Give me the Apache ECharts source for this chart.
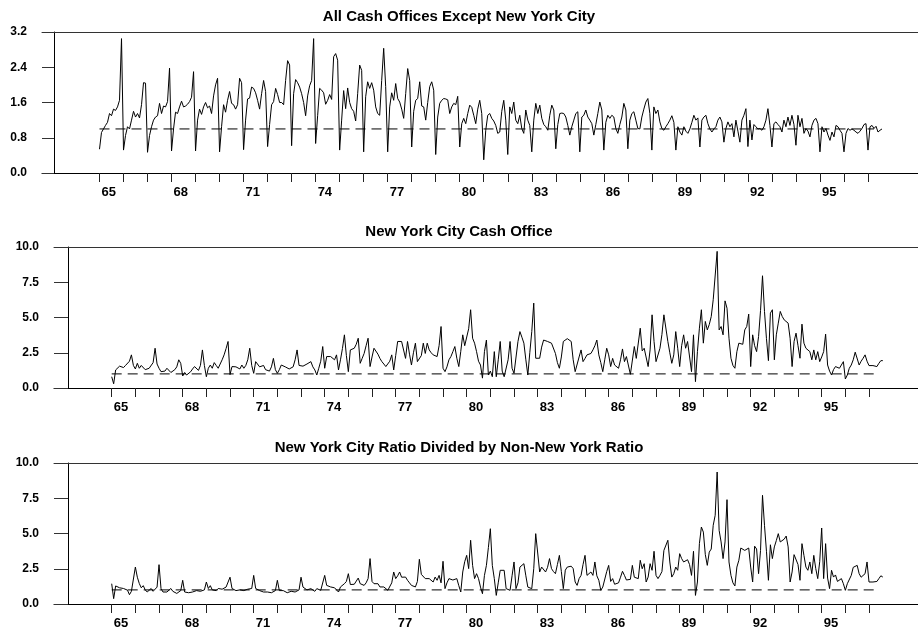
<!DOCTYPE html>
<html>
<head>
<meta charset="utf-8">
<script src="https://cdn.jsdelivr.net/npm/echarts@6/dist/echarts.min.js"></script>
<style>
  html, body { margin: 0; padding: 0; background: #fff; }
  #chart { width: 918px; height: 631px; }
</style>
</head>
<body>
<div id="chart"></div>
<script>
// monthly values, Jan 1965 .. Aug 1997
const startYear = 1965
const tickYears = [1965, 1966, 1967, 1968, 1969, 1970, 1971, 1972, 1973, 1974, 1975, 1976, 1977, 1978, 1979, 1980,
  1981, 1982, 1983, 1984, 1985, 1986, 1987, 1988, 1989, 1990, 1991, 1992, 1993, 1994, 1995, 1996, 1997]
const labelYears = [1965, 1968, 1971, 1974, 1977, 1980, 1983, 1986, 1989, 1992, 1995]
const refLevel = 1.0
const refSpan = [1965, 1997.25]

const nonNY = [
  0.54, 0.92, 1.0, 1.08, 1.15, 1.35, 1.3, 1.45, 1.42, 1.5, 1.65, 3.05,
  0.52, 0.85, 1.05, 1.0, 1.2, 1.4, 1.27, 1.35, 1.25, 1.55, 2.05, 2.04,
  0.47, 0.85, 1.05, 1.2, 1.27, 1.3, 1.58, 1.35, 1.52, 1.5, 1.62, 2.38,
  0.5, 1.0, 1.38, 1.35, 1.5, 1.63, 1.5, 1.52, 1.56, 1.62, 1.72, 2.3,
  0.5, 1.2, 1.45, 1.33, 1.5, 1.6, 1.48, 1.52, 1.35, 1.75, 2.0, 2.15,
  0.48, 1.05, 1.55, 1.38, 1.65, 1.85, 1.58, 1.55, 1.45, 1.55, 2.15, 2.05,
  0.53, 1.2, 1.68, 1.7, 1.95, 1.92, 1.82, 1.65, 1.45, 1.8, 2.1, 1.85,
  0.6, 1.1, 1.55, 1.62, 1.92, 1.78, 1.6, 1.6, 1.55, 2.1, 2.55, 2.45,
  0.62, 1.8, 2.12, 2.05, 1.95, 1.8, 1.6, 1.3, 1.75, 1.98, 2.1, 3.05,
  0.67, 1.3, 1.92, 1.88, 1.82, 1.56, 1.65, 1.78, 1.67, 2.64, 2.71, 2.56,
  0.52, 1.2, 1.87, 1.46, 1.93, 1.6, 1.46, 1.4, 1.18, 1.8, 2.45, 2.33,
  0.48, 1.73, 2.07, 1.92, 2.05, 1.88, 1.5, 1.35, 1.31, 2.1, 2.83, 1.96,
  0.48, 1.5, 1.82, 1.65, 2.03, 1.69, 1.61, 1.45, 1.24, 1.8, 2.37, 2.1,
  0.59, 1.4, 1.65, 1.69, 2.07, 1.52, 1.5, 1.2, 1.6, 1.96, 2.07, 1.88,
  0.42, 1.27, 1.58, 1.65, 1.69, 1.68, 1.66, 1.35, 1.5, 1.58, 1.55, 1.74,
  0.59, 1.12, 1.24, 1.12, 1.35, 1.54, 1.49, 1.31, 1.12, 1.45, 1.65, 1.35,
  0.3, 0.97, 1.31, 1.35, 1.24, 1.18, 1.08, 0.9, 0.93, 1.4, 1.65, 1.2,
  0.42, 1.5, 1.35, 1.61, 1.2, 1.12, 1.31, 1.01, 0.9, 1.43, 1.2, 1.08,
  0.48, 1.2, 1.58, 1.35, 1.54, 1.24, 1.1, 1.05, 0.97, 1.31, 1.54, 1.43,
  0.55, 1.1, 1.35, 1.36, 1.35, 1.27, 1.08, 0.86, 1.05, 1.2, 1.35, 1.39,
  0.48, 1.27, 1.31, 1.43, 1.27, 1.2, 1.12, 0.86, 1.1, 1.35, 1.61, 1.43,
  0.52, 1.15, 1.31, 1.24, 1.31, 1.27, 1.01, 0.9, 1.1, 1.27, 1.58, 1.43,
  0.55, 1.2, 1.35, 1.39, 1.2, 1.01, 1.0, 1.27, 1.45, 1.61, 1.69, 1.35,
  0.52, 1.5, 1.35, 1.43, 1.16, 1.01, 0.97, 1.05, 1.12, 1.2, 1.3, 1.15,
  0.52, 1.05, 0.93, 0.86, 1.05, 0.95, 0.9, 1.0, 1.15, 1.31, 1.2, 1.25,
  0.59, 1.2, 1.27, 1.31, 1.12, 1.0, 0.93, 1.0, 1.05, 1.2, 1.27, 1.16,
  0.7, 1.01, 1.16, 1.05, 1.12, 0.82, 1.2, 0.95, 0.7, 1.2, 1.31, 1.46,
  0.6, 1.2, 0.75, 1.1, 1.05, 1.0, 1.01, 0.97, 1.05, 1.2, 1.46, 1.08,
  0.59, 1.12, 1.16, 1.1, 1.05, 0.93, 1.2, 1.05, 1.27, 1.08, 1.31, 1.1,
  0.63, 1.31, 1.05, 1.24, 0.9, 1.01, 0.95, 0.82, 1.08, 1.2, 1.24, 1.12,
  0.48, 1.05, 0.93, 1.01, 0.86, 0.74, 0.93, 0.82, 1.08, 1.05, 0.97, 0.9,
  0.48, 0.9, 1.01, 0.97, 1.0, 0.97, 0.93, 0.9, 0.95, 1.01, 1.1, 1.12,
  0.52, 1.05, 1.08, 1.01, 1.06, 0.93, 0.97, 1.0
]

const nyc = [
  0.8, 0.3, 1.28, 1.4, 1.55, 1.5, 1.45, 1.6, 1.7, 1.9, 2.35, 1.6,
  1.35, 1.75, 1.4, 1.6, 1.5, 1.3, 1.28, 1.4, 1.35, 1.8, 2.82, 1.7,
  1.4, 1.16, 1.04, 1.2, 1.4, 1.28, 1.1, 1.2, 1.3, 1.5, 2.0, 1.75,
  0.85, 1.1, 0.92, 1.0, 1.15, 1.35, 1.52, 1.4, 1.25, 1.6, 2.7, 1.6,
  0.8, 1.4, 1.63, 1.4, 1.8, 1.6, 1.4, 1.7, 2.0, 2.35, 2.8, 3.3,
  0.95, 1.52, 1.4, 1.5, 1.45, 1.35, 1.63, 1.4, 1.6, 2.0, 2.82, 1.6,
  1.04, 1.87, 1.75, 1.5, 1.4, 1.6, 1.3, 1.16, 1.2, 1.5, 2.1, 1.3,
  1.04, 1.3, 1.63, 1.55, 1.5, 1.4, 1.35, 1.28, 1.5, 2.0, 2.7, 1.6,
  1.5, 1.55, 1.63, 1.7, 1.8, 1.87, 1.5, 1.28, 0.92, 1.4, 1.9, 2.94,
  1.4, 2.23, 2.1, 2.23, 2.15, 2.0, 2.35, 1.28, 2.0, 2.8, 3.77, 2.3,
  1.16, 2.7, 2.6, 2.82, 3.1, 3.53, 1.75, 2.1, 2.45, 3.0, 3.53, 1.52,
  2.2, 2.82, 2.7, 2.4, 2.1, 1.87, 1.7, 1.52, 1.4, 1.9, 2.35, 1.28,
  2.3, 3.3, 3.4, 3.3, 3.3, 2.1, 3.3, 2.4, 1.63, 2.5, 3.18, 1.87,
  2.0, 2.3, 3.18, 2.45, 3.18, 2.7, 2.5, 2.35, 2.3, 2.23, 3.0, 4.36,
  1.4, 1.16, 1.5, 2.0, 2.23, 2.58, 2.94, 2.11, 1.52, 2.6, 3.77, 3.0,
  2.94, 4.2, 5.55, 3.53, 3.18, 2.58, 1.9, 1.63, 0.7, 2.58, 3.4, 0.92,
  1.2, 0.8, 2.58, 0.8, 2.0, 3.3, 1.2, 0.8, 0.8, 2.0, 3.3, 1.4,
  1.04, 1.1, 3.3, 4.0, 3.6, 3.18, 2.0, 0.92, 2.5, 4.0, 6.02, 2.11,
  2.2, 2.11, 2.9, 3.4, 3.35, 3.3, 3.25, 3.18, 3.3, 2.45, 1.8, 1.4,
  2.2, 3.3, 3.4, 3.5, 3.53, 3.3, 2.0, 1.16, 1.04, 2.2, 2.7, 1.87,
  2.1, 2.35, 2.4, 2.45, 2.7, 3.0, 3.4, 2.35, 1.8, 1.16, 2.0, 2.82,
  2.35, 1.52, 2.1, 1.63, 1.5, 1.4, 2.0, 2.77, 1.87, 2.23, 2.35, 0.97,
  0.97, 2.94, 2.1, 2.2, 4.24, 2.63, 2.82, 2.94, 1.52, 2.7, 5.19, 3.3,
  1.87, 2.0, 2.82, 3.8, 5.19, 5.07, 3.3, 2.5, 1.75, 2.35, 4.0, 2.82,
  1.52, 3.0, 3.77, 2.82, 3.3, 3.4, 1.16, 3.77, 0.45, 2.58, 4.24, 5.55,
  3.18, 4.72, 4.12, 4.5, 5.07, 6.26, 6.26, 9.69, 4.12, 4.36, 3.77, 6.18,
  5.66, 3.53, 2.11, 1.6, 1.4, 2.58, 3.18, 3.06, 3.1, 4.12, 4.36, 5.24,
  1.52, 3.77, 3.0, 2.58, 3.65, 5.5, 7.96, 5.43, 3.5, 1.94, 5.31, 5.55,
  2.0, 3.77, 4.6, 5.43, 5.07, 4.83, 4.7, 4.6, 3.53, 1.52, 3.3, 3.89,
  3.0, 2.11, 4.53, 3.18, 2.82, 2.7, 2.58, 2.0, 2.7, 2.0, 2.58, 1.87,
  2.2, 2.58, 3.82, 1.63, 1.2, 0.92, 1.3, 1.52, 1.4, 1.4, 1.45, 1.87,
  0.64, 0.92, 1.4, 1.63, 2.0, 2.54, 2.46, 1.63, 1.9, 2.11, 2.35, 1.9,
  1.59, 1.59, 1.59, 1.52, 1.52, 1.75, 1.94, 1.94
]

const ratio = [
  1.44, 0.38, 1.28, 1.2, 1.15, 1.13, 1.1, 1.05, 0.98, 0.66, 0.9, 1.0,
  2.62, 1.9, 1.45, 1.15, 1.3, 1.0, 0.85, 0.95, 1.1, 0.9, 1.0, 1.2,
  2.79, 1.1, 0.85, 0.75, 0.85, 0.95, 1.1, 0.9, 0.8, 0.75, 0.85, 0.95,
  1.68, 0.85, 0.75, 0.8, 0.9, 0.85, 0.9, 0.95, 1.0, 0.9, 0.95, 1.0,
  1.56, 1.1, 1.3, 1.0, 1.05, 0.95, 1.1, 1.0, 1.05, 1.1, 1.2, 1.3,
  1.9, 1.1, 1.0, 0.95, 1.05, 1.0, 1.1, 0.95, 1.0, 1.05, 1.0, 1.1,
  2.03, 1.1, 1.0, 0.95, 1.0, 0.85, 0.8, 0.85, 0.75, 0.8, 0.85, 0.95,
  1.68, 0.95, 0.9, 0.95, 0.85, 0.8, 0.8, 0.9, 0.95, 0.85, 0.9, 1.0,
  1.9, 1.2, 1.09, 1.0, 0.97, 1.09, 1.0, 0.9, 1.09, 1.0, 0.97, 0.97,
  2.03, 1.32, 1.25, 1.21, 1.09, 1.15, 1.21, 0.85, 1.21, 1.3, 1.44, 1.6,
  2.15, 1.38, 1.32, 1.4, 1.44, 1.84, 1.44, 1.4, 1.32, 1.5, 1.8, 3.22,
  1.6, 1.44, 1.32, 1.44, 1.21, 1.2, 1.21, 1.1, 0.97, 0.97, 1.5, 2.27,
  1.8, 2.0, 2.27, 1.9, 1.8, 1.91, 1.68, 1.5, 1.32, 1.25, 1.21, 1.6,
  3.17, 2.1, 2.03, 1.8, 1.68, 1.8, 1.7, 1.56, 1.91, 1.68, 2.03, 1.5,
  3.03, 1.09, 1.5, 1.8, 1.8, 1.7, 1.56, 1.8, 1.3, 0.85, 2.27, 3.0,
  3.45, 2.51, 4.52, 2.74, 1.8, 2.15, 1.8, 1.2, 0.73, 2.03, 2.74, 4.0,
  5.34, 2.74, 1.8, 0.61, 1.5, 2.39, 2.39, 2.39, 1.09, 1.0, 0.97, 2.0,
  2.98, 1.09, 1.5, 2.62, 2.6, 2.86, 2.0, 1.2, 1.09, 1.09, 2.5, 4.99,
  4.87, 2.27, 2.62, 2.5, 2.27, 2.6, 3.22, 2.51, 2.3, 2.15, 2.8, 3.45,
  2.3, 1.09, 2.4, 2.62, 2.74, 2.68, 2.51, 1.56, 1.32, 1.8, 2.03, 2.8,
  3.45, 2.03, 2.06, 2.27, 2.03, 2.98, 2.0, 1.68, 0.97, 1.2, 1.32, 2.3,
  2.74, 1.6, 1.8, 1.4, 1.3, 1.5, 1.9, 2.32, 2.03, 1.7, 1.56, 1.75,
  2.74, 1.9, 1.8, 1.8, 3.1, 2.5, 2.86, 1.56, 1.91, 2.86, 2.39, 3.74,
  2.03, 1.8, 2.03, 2.3, 3.8, 3.68, 4.52, 2.98, 1.91, 2.15, 2.62, 2.39,
  3.57, 3.22, 2.98, 2.86, 3.14, 2.8, 2.03, 3.74, 0.61, 1.56, 4.28, 5.46,
  5.1, 3.5, 2.74, 3.68, 3.9, 5.58, 6.29, 9.36, 5.22, 4.4, 3.22, 4.4,
  7.4, 2.98, 2.03, 1.5, 1.28, 2.62, 3.1, 3.97, 3.85, 3.8, 3.92, 3.97,
  2.62, 1.56, 4.1, 3.9, 2.15, 3.8, 7.71, 5.58, 3.74, 1.68, 4.2, 3.22,
  4.05, 4.5, 4.99, 4.4, 4.35, 4.6, 4.82, 4.05, 1.56, 2.27, 3.5, 3.45,
  2.8, 1.68, 4.28, 3.45, 2.62, 2.39, 2.98, 2.15, 3.45, 2.51, 1.8, 3.0,
  5.39, 1.8, 4.28, 1.84, 1.09, 2.39, 1.91, 2.06, 1.6, 1.7, 1.8, 1.44,
  0.97, 1.44, 1.44, 2.03, 2.6, 2.74, 2.74, 2.15, 1.9, 1.91, 2.15, 2.98,
  1.56, 1.56, 1.56, 1.44, 1.6, 1.8, 2.0, 1.91
]

const titles = [
  'All Cash Offices Except New York City',
  'New York City Cash Office',
  'New York City Ratio Divided by Non-New York Ratio'
]

// layout of the three panels (pixels)
const panels = [
  {titleTop: 8, left: 42, top: 32, height: 141, yOff: 12, labelMargin: 27, xMin: 1962.606, xMax: 1999.082, yMax: 3.2, yStep: 0.8},
  {titleTop: 223, left: 54, top: 247, height: 141, yOff: 14, labelMargin: 29, xMin: 1962.562, xMax: 1999.07, yMax: 10, yStep: 2.5},
  {titleTop: 439, left: 54, top: 463, height: 141, yOff: 14, labelMargin: 29, xMin: 1962.562, xMax: 1999.07, yMax: 10, yStep: 2.5}
]
const seriesData = [nonNY, nyc, ratio]

const font = 'Liberation Sans, Arial, Helvetica, sans-serif'
const toPoints = arr => arr.map((v, i) => [startYear + i / 12, v])

const chart = echarts.init(document.getElementById('chart'), null, {renderer: 'canvas'})

const option = {
  animation: false,
  backgroundColor: '#fff',
  title: panels.map((p, i) => ({
    text: titles[i],
    left: 'center',
    top: p.titleTop,
    padding: 0,
    textStyle: {fontFamily: font, fontSize: 15, fontWeight: 'bold', color: '#000', lineHeight: 18}
  })),
  grid: panels.map(p => ({left: p.left, right: 0, top: p.top, height: p.height, containLabel: false})),
  xAxis: [
    ...panels.map((p, i) => ({
      type: 'value',
      gridIndex: i,
      position: 'bottom',
      min: p.xMin,
      max: p.xMax,
      splitLine: {show: false},
      axisLine: {show: true, onZero: false, lineStyle: {color: '#000', width: 1}},
      axisTick: {show: true, inside: false, length: 9, customValues: tickYears, lineStyle: {color: '#222', width: 1}},
      axisLabel: {
        show: true,
        customValues: labelYears,
        margin: 13,
        align: 'left',
        padding: [0, 0, 0, 2],
        fontFamily: font,
        fontSize: 13,
        fontWeight: 'bold',
        color: '#000',
        formatter: v => String(Math.round(v)).slice(2)
      }
    })),
    ...panels.map((p, i) => ({
      type: 'value',
      gridIndex: i,
      position: 'top',
      min: p.xMin,
      max: p.xMax,
      splitLine: {show: false},
      axisLine: {show: true, onZero: false, lineStyle: {color: '#333', width: 1}},
      axisTick: {show: false},
      axisLabel: {show: false}
    }))
  ],
  yAxis: panels.map((p, i) => ({
    type: 'value',
    gridIndex: i,
    min: 0,
    max: p.yMax,
    interval: p.yStep,
    offset: -p.yOff,
    splitLine: {show: false},
    axisLine: {show: true, lineStyle: {color: '#000', width: 1}},
    axisTick: {show: true, inside: false, length: p.yOff, lineStyle: {color: '#333', width: 1}},
    axisLabel: {
      margin: p.labelMargin,
      fontFamily: font,
      fontSize: 12,
      fontWeight: 'bold',
      color: '#000',
      formatter: v => v.toFixed(1)
    }
  })),
  series: [
    ...seriesData.map((arr, i) => ({
      type: 'line',
      xAxisIndex: i,
      yAxisIndex: i,
      data: toPoints(arr),
      showSymbol: false,
      symbol: 'none',
      lineStyle: {color: '#000', width: 1},
      z: 3
    })),
    ...seriesData.map((arr, i) => ({
      type: 'line',
      xAxisIndex: i,
      yAxisIndex: i,
      data: refSpan.map(x => [x, refLevel]),
      showSymbol: false,
      symbol: 'none',
      lineStyle: {color: '#000', width: 1, type: [10, 6]},
      z: 2
    }))
  ]
}

chart.setOption(option)
</script>
</body>
</html>
